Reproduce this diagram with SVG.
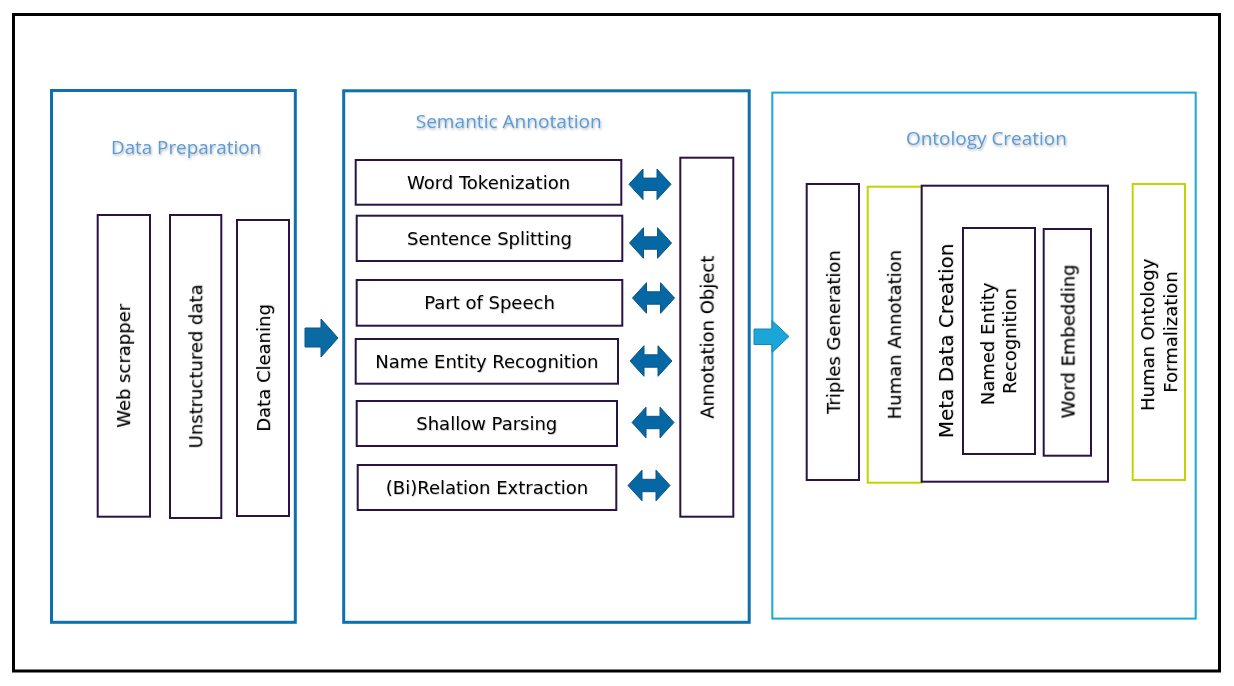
<svg xmlns="http://www.w3.org/2000/svg" xmlns:xlink="http://www.w3.org/1999/xlink" width="1234" height="686" viewBox="0 0 1234 686">
  <defs>
    <style>
      .frame { fill: none; stroke: #000000; stroke-width: 3; }
      .panel { fill: #ffffff; stroke: #0E70AD; stroke-width: 3; }
      .panel2 { fill: #ffffff; stroke: #1AA7D9; stroke-width: 2; }
      .box { fill: #ffffff; stroke: #2A1242; stroke-width: 2; }
      .ybox { fill: #ffffff; stroke: #C6D200; stroke-width: 2; }
      .title { font-family: "Open Sans", "Liberation Sans", sans-serif; font-size: 19px; fill: #5B9BD5; text-anchor: middle; filter: url(#tshadow); }
      .lbl { font-family: "DejaVu Sans", "Liberation Sans", sans-serif; font-size: 18px; fill: #000000; text-anchor: middle; filter: url(#lshadow); }
      .big { font-size: 20px; }
      .dbl { fill: #0568A4; stroke: #0A5585; stroke-width: 1; }
      .arr1 { fill: #0A6AA3; stroke: #0B5483; stroke-width: 1; }
      .arr2 { fill: #1CA6D8; stroke: #1389B5; stroke-width: 1; }
    </style>
    <filter id="tshadow" x="-10%" y="-30%" width="120%" height="160%">
      <feDropShadow dx="0.8" dy="1.5" stdDeviation="1" flood-color="#000000" flood-opacity="0.3"/>
    </filter>
    <filter id="lshadow" x="-10%" y="-30%" width="120%" height="160%">
      <feDropShadow dx="0.6" dy="0.8" stdDeviation="0.6" flood-color="#000000" flood-opacity="0.25"/>
    </filter>
    <path id="dblarrow" class="dbl" d="M-21,0 L-7,-15.3 L-7,-6.2 L7,-6.2 L7,-15.3 L21,0 L7,15.3 L7,6.2 L-7,6.2 L-7,15.3 Z"/>
  </defs>

  <rect x="0" y="0" width="1234" height="686" fill="#ffffff"/>
  <rect class="frame" x="13.5" y="14.5" width="1206" height="656.5"/>

  <!-- Panels -->
  <g id="panel-data-preparation">
    <rect class="panel" x="51.5" y="90.5" width="243.8" height="531.8"/>
    <text class="title" x="186" y="154" textLength="150" lengthAdjust="spacingAndGlyphs">Data Preparation</text>
  </g>
  <g id="panel-semantic-annotation">
    <rect class="panel" x="343.7" y="90.8" width="405.5" height="531.5"/>
    <text class="title" x="508.7" y="128.3" textLength="186" lengthAdjust="spacingAndGlyphs">Semantic Annotation</text>
  </g>
  <g id="panel-ontology-creation">
    <rect class="panel2" x="772.3" y="92.6" width="423.4" height="526"/>
    <text class="title" x="986.4" y="144.7" textLength="161" lengthAdjust="spacingAndGlyphs">Ontology Creation</text>
  </g>

  <!-- Data Preparation nodes -->
  <g id="node-web-scrapper">
    <rect class="box" x="97.7" y="215" width="52.3" height="301.7"/>
    <text class="lbl" transform="rotate(-90 123.9 365.9)" x="123.9" y="372.4">Web scrapper</text>
  </g>
  <g id="node-unstructured-data">
    <rect class="box" x="170" y="215" width="51.3" height="303"/>
    <text class="lbl" transform="rotate(-90 195.7 366.5)" x="195.7" y="373">Unstructured data</text>
  </g>
  <g id="node-data-cleaning">
    <rect class="box" x="237" y="220" width="52" height="296"/>
    <text class="lbl" transform="rotate(-90 263 368)" x="263" y="374.5">Data Cleaning</text>
  </g>

  <!-- Semantic Annotation nodes -->
  <g id="node-word-tokenization">
    <rect class="box" x="355.7" y="160" width="265.6" height="44.7"/>
    <text class="lbl" x="488.5" y="188.8">Word Tokenization</text>
  </g>
  <g id="node-sentence-splitting">
    <rect class="box" x="356.7" y="215.7" width="265.6" height="45.3"/>
    <text class="lbl" x="489.5" y="244.9">Sentence Splitting</text>
  </g>
  <g id="node-part-of-speech">
    <rect class="box" x="356.7" y="280" width="265.6" height="45.7"/>
    <text class="lbl" x="489.5" y="309.4">Part of Speech</text>
  </g>
  <g id="node-name-entity-recognition">
    <rect class="box" x="355.7" y="339" width="262.3" height="44.7"/>
    <text class="lbl" x="486.8" y="367.9">Name Entity Recognition</text>
  </g>
  <g id="node-shallow-parsing">
    <rect class="box" x="356.7" y="401" width="260.3" height="45"/>
    <text class="lbl" x="486.8" y="430">Shallow Parsing</text>
  </g>
  <g id="node-relation-extraction">
    <rect class="box" x="357.7" y="465" width="258.6" height="45"/>
    <text class="lbl" x="487" y="494">(Bi)Relation Extraction</text>
  </g>
  <g id="node-annotation-object">
    <rect class="box" x="680.3" y="157.7" width="53" height="359"/>
    <text class="lbl" transform="rotate(-90 706.8 337.2)" x="706.8" y="343.7">Annotation Object</text>
  </g>

  <!-- Ontology Creation nodes -->
  <g id="node-triples-generation">
    <rect class="box" x="806.7" y="184" width="52.3" height="296"/>
    <text class="lbl" transform="rotate(-90 832.9 332)" x="832.9" y="338.5">Triples Generation</text>
  </g>
  <g id="node-human-annotation">
    <rect class="ybox" x="867.7" y="186.7" width="54" height="296"/>
    <text class="lbl" transform="rotate(-90 894.5 334.7)" x="894.5" y="341.2">Human Annotation</text>
  </g>
  <g id="node-meta-data-creation">
    <rect class="box" x="921.7" y="185.7" width="186.3" height="296"/>
    <text class="lbl big" transform="rotate(-90 946 341)" x="946" y="348.3">Meta Data Creation</text>
  </g>
  <g id="node-named-entity-recognition">
    <rect class="box" x="963" y="228" width="72" height="226"/>
    <text class="lbl" transform="rotate(-90 999 341)" x="999" y="341">
      <tspan x="999" dy="-5.4">Named Entity</tspan>
      <tspan x="999" dy="22.8">Recognition</tspan>
    </text>
  </g>
  <g id="node-word-embedding">
    <rect class="box" x="1043.7" y="229" width="47.3" height="226.7"/>
    <text class="lbl" transform="rotate(-90 1068 341.5)" x="1068" y="348">Word Embedding</text>
  </g>
  <g id="node-human-ontology-formalization">
    <rect class="ybox" x="1132.7" y="184" width="52.3" height="296"/>
    <text class="lbl" transform="rotate(-90 1159 332)" x="1159" y="332">
      <tspan x="1159" dy="-5">Human Ontology</tspan>
      <tspan x="1159" dy="22.8">Formalization</tspan>
    </text>
  </g>

  <!-- Connectors -->
  <g id="connectors">
    <path id="arrow-prep-to-semantic" class="arr1" d="M305,328 L321,328 L321,319 L338,338 L321,357 L321,347 L305,347 Z"/>
    <path id="arrow-semantic-to-ontology" class="arr2" d="M754,329 L772,329 L772,320.5 L789,336.5 L772,352.5 L772,344.5 L754,344.5 Z"/>
    <use xlink:href="#dblarrow" href="#dblarrow" x="650" y="184.3"/>
    <use xlink:href="#dblarrow" href="#dblarrow" x="650.5" y="243"/>
    <use xlink:href="#dblarrow" href="#dblarrow" x="653.5" y="298"/>
    <use xlink:href="#dblarrow" href="#dblarrow" x="651" y="361"/>
    <use xlink:href="#dblarrow" href="#dblarrow" x="653" y="422.5"/>
    <use xlink:href="#dblarrow" href="#dblarrow" x="649" y="485.5"/>
  </g>
</svg>
